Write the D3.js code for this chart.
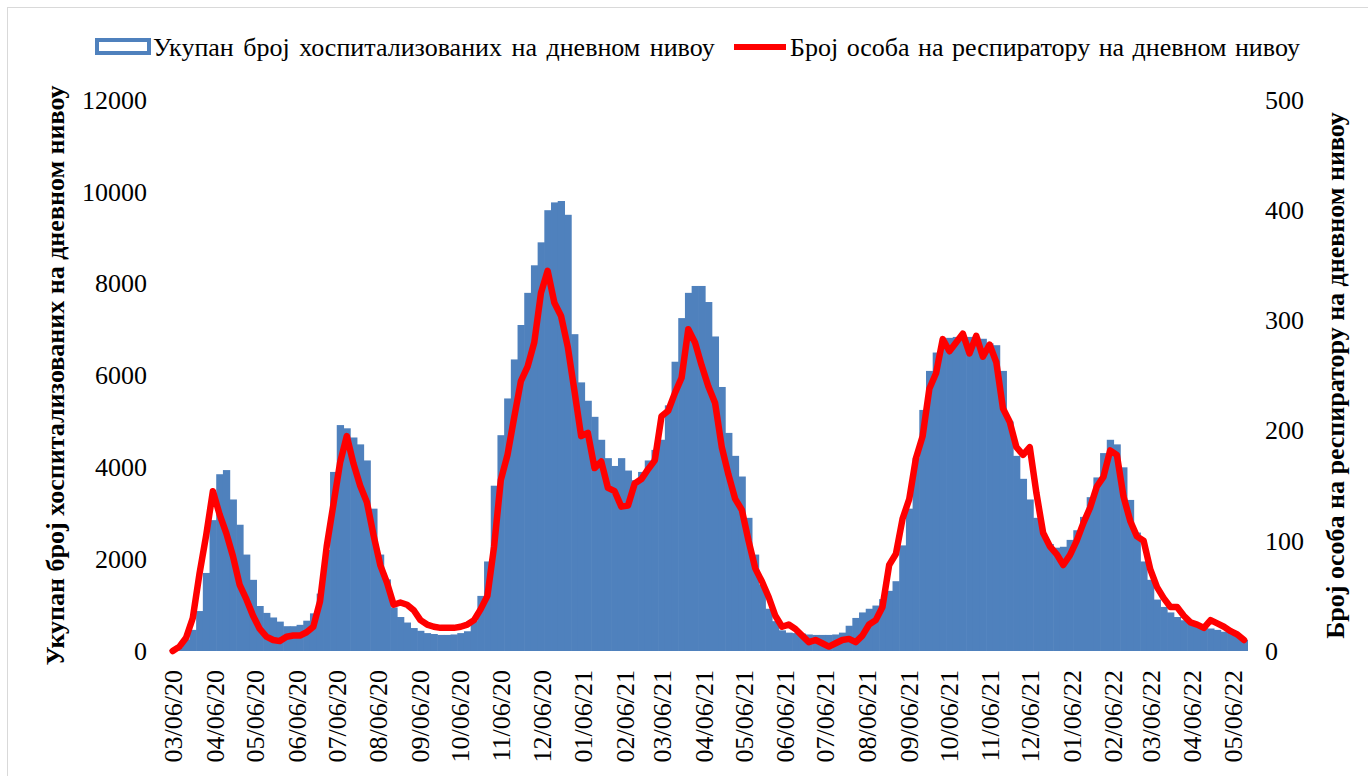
<!DOCTYPE html>
<html>
<head>
<meta charset="utf-8">
<script src="https://cdn.jsdelivr.net/npm/d3@7"></script>
<style>
  body { margin: 0; background: #fff; }
</style>
</head>
<body>
<div id="chart"></div>
<script>
// samples every 5 days starting 03/06/2020
var startDate = new Date(2020, 2, 6);
var stepDays = 5;

var hospitalized = [
  20, 80, 250, 460, 870, 1700, 2850, 3850, 3940, 3300,
  2750, 2100, 1550, 980, 830, 730, 640, 540, 540, 570,
  660, 820, 1250, 2200, 3900, 4920, 4850, 4650, 4500, 4150,
  3100, 2100, 1560, 950, 740, 620, 500, 440, 390, 370,
  350, 350, 360, 390, 430, 650, 1200, 1950, 3600, 4700,
  5500, 6350, 7100, 7800, 8400, 8900, 9600, 9770, 9800, 9500,
  6900, 5850, 5450, 5100, 4600, 4200, 4030, 4200, 3930, 3720,
  3900, 4150, 4380, 4600, 5350, 6300, 7250, 7800, 7950, 7950,
  7600, 6850, 5750, 4750, 4250, 3800, 2900, 2100, 1450, 920,
  650, 450, 400, 390, 380, 360, 350, 350, 350, 360,
  400, 550, 720, 840, 920, 990, 1130, 1310, 1520, 2300,
  3100, 4200, 5250, 6100, 6500, 6750, 6820, 6840, 6840, 6840,
  6830, 6800, 6700, 6660, 6100, 5000, 4250, 3750, 3300, 2900,
  2560, 2330, 2250, 2270, 2420, 2630, 2920, 3350, 3780, 4310,
  4600, 4500, 4000, 3290, 2580, 1950, 1550, 1120, 960, 840,
  740, 670, 610, 560, 520, 490, 460, 420, 390, 320,
  240
];

var ventilator = [
  0, 4, 12, 30, 70, 105, 145, 124, 107, 86,
  60, 47, 32, 20, 13, 10, 9, 13, 14, 14,
  17, 22, 45, 95, 133, 171, 195, 170, 150, 135,
  105, 78, 62, 42, 44, 42, 37, 28, 24, 22,
  21, 21, 21, 22, 24, 28, 38, 50, 95, 155,
  178, 212, 245, 258, 280, 325, 345, 316, 304, 276,
  236, 195, 198, 166, 172, 148, 145, 131, 132, 152,
  156, 165, 173, 213, 218, 234, 248, 292, 280, 259,
  240, 225, 185, 160, 138, 128, 100, 75, 63, 49,
  32, 22, 24, 20, 14, 8, 10, 7, 4, 7,
  10, 11, 8, 14, 24, 28, 40, 78, 88, 120,
  138, 175, 195, 238, 252, 283, 272, 280, 288, 270,
  286, 267, 278, 262, 220, 208, 185, 178, 185, 143,
  107, 95, 88, 78, 87, 100, 116, 130, 149, 158,
  182, 178, 140, 118, 104, 100, 74, 58, 48, 40,
  40, 32, 26, 24, 21, 28, 25, 22, 18, 15,
  10
];

var leftTicks = [0, 2000, 4000, 6000, 8000, 10000, 12000];
var rightTicks = [0, 100, 200, 300, 400, 500];
var tickDates = d3.range(0, 27).map(function(k) { return new Date(2020, 2 + k, 6); });

var legendLabels = ["Укупан број хоспитализованих на дневном нивоу", "Број особа на респиратору на дневном нивоу"];
var leftTitle = "Укупан број хоспитализованих на дневном нивоу";
var rightTitle = "Број особа на респиратору на дневном нивоу";

var FONT = "'Liberation Serif'";
var FS = "26px";

var data = hospitalized.map(function(v, i) {
  return { date: d3.timeDay.offset(startDate, i * stepDays), hosp: v, vent: ventilator[i] };
});

var width = 1368, height = 776;
var plotTop = 100, plotBottom = 651, plotLeft = 172.7, plotRight = 1232;

var svg = d3.select("#chart")
  .append("svg")
  .attr("width", width)
  .attr("height", height);

// chart border
svg.append("rect")
  .attr("x", 7.5).attr("y", 7.5)
  .attr("width", 1400).attr("height", 800)
  .style("fill", "none")
  .style("stroke", "#d9d9d9");

var x = d3.scaleTime()
  .domain([startDate, new Date(2022, 4, 6)])
  .range([plotLeft, plotRight]);

var yL = d3.scaleLinear().domain([0, 12000]).range([plotBottom, plotTop]);
var yR = d3.scaleLinear().domain([0, 500]).range([plotBottom, plotTop]);

var barW = x(d3.timeDay.offset(startDate, stepDays)) - x(startDate);

svg.append("g")
  .selectAll("rect")
  .data(data)
  .enter()
  .append("rect")
    .attr("x", function(d) { return x(d.date) - barW / 2; })
    .attr("y", function(d) { return yL(d.hosp); })
    .attr("width", barW + 0.6)
    .attr("height", function(d) { return yL(0) - yL(d.hosp); })
    .style("fill", "#4f81bd");

var line = d3.line()
  .x(function(d) { return x(d.date); })
  .y(function(d) { return yR(d.vent); });

svg.append("path")
  .datum(data)
  .attr("d", line)
  .style("fill", "none")
  .style("stroke", "#ff0000")
  .style("stroke-width", 6.5)
  .style("stroke-linejoin", "round")
  .style("stroke-linecap", "round");

// left axis
var axL = svg.append("g")
  .attr("transform", "translate(147,0)")
  .call(d3.axisLeft(yL).tickValues(leftTicks).tickSize(0).tickPadding(0).tickFormat(d3.format("d")));
axL.select(".domain").remove();
axL.selectAll("text").style("font-size", FS).style("font-family", FONT).style("fill", "#000");

// right axis
var axR = svg.append("g")
  .attr("transform", "translate(1265,0)")
  .call(d3.axisRight(yR).tickValues(rightTicks).tickSize(0).tickPadding(0).tickFormat(d3.format("d")));
axR.select(".domain").remove();
axR.selectAll("text").style("font-size", FS).style("font-family", FONT).style("fill", "#000");

// x axis, rotated labels
var axX = svg.append("g")
  .attr("transform", "translate(0,670)")
  .call(d3.axisBottom(x).tickValues(tickDates).tickSize(0).tickFormat(d3.timeFormat("%m/%d/%y")));
axX.select(".domain").remove();
axX.selectAll("text")
  .attr("transform", "rotate(-90)")
  .attr("x", 0)
  .attr("y", 0)
  .attr("dy", "0.35em")
  .style("text-anchor", "end")
  .style("font-size", FS)
  .style("font-family", FONT)
  .style("fill", "#000");

// axis titles
svg.append("text")
  .attr("transform", "translate(55," + ((plotTop + plotBottom) / 2) + ") rotate(-90)")
  .attr("dy", "0.35em")
  .style("text-anchor", "middle")
  .style("font-size", FS)
  .style("font-weight", "bold")
  .style("font-family", FONT)
  .text(leftTitle);

svg.append("text")
  .attr("transform", "translate(1335," + ((plotTop + plotBottom) / 2) + ") rotate(-90)")
  .attr("dy", "0.35em")
  .style("text-anchor", "middle")
  .style("font-size", FS)
  .style("font-weight", "bold")
  .style("font-family", FONT)
  .text(rightTitle);

// legend
var lg = svg.append("g");
lg.append("rect")
  .attr("x", 97).attr("y", 40)
  .attr("width", 52).attr("height", 13)
  .style("fill", "#fff")
  .style("stroke", "#4f81bd")
  .style("stroke-width", 4);
lg.append("text")
  .attr("x", 153).attr("y", 47)
  .attr("dy", "0.35em")
  .style("font-size", FS)
  .style("font-family", FONT)
  .style("word-spacing", "3px")
  .text(legendLabels[0]);
lg.append("line")
  .attr("x1", 734).attr("x2", 786)
  .attr("y1", 47).attr("y2", 47)
  .style("stroke", "#ff0000")
  .style("stroke-width", 6);
lg.append("text")
  .attr("x", 790).attr("y", 47)
  .attr("dy", "0.35em")
  .style("font-size", FS)
  .style("font-family", FONT)
  .style("word-spacing", "2px")
  .text(legendLabels[1]);
</script>
</body>
</html>
